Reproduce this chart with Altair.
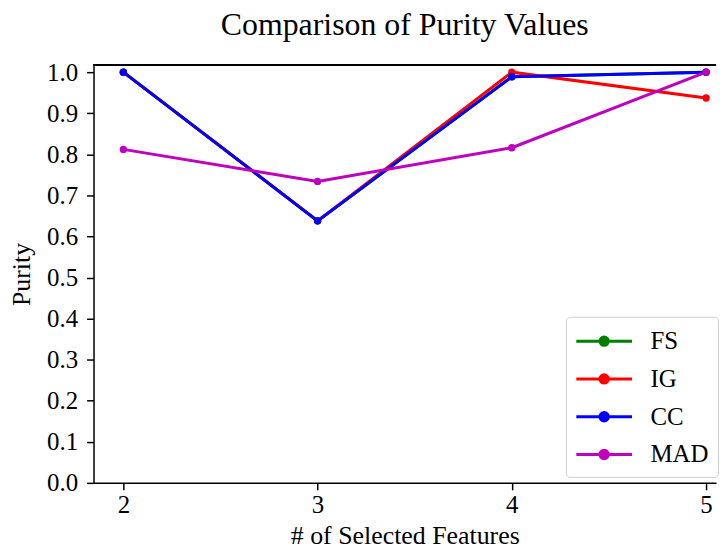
import altair as alt
import pandas as pd

features = [2, 3, 4, 5]
series_names = ["FS", "IG", "CC", "MAD"]
fs_vals = [1.0, 0.638, 0.989, 1.0]
ig_vals = [1.0, 0.638, 1.0, 0.937]
cc_vals = [1.0, 0.638, 0.989, 1.0]
mad_vals = [0.812, 0.734, 0.816, 1.0]
colors = ["#008000", "#ff0000", "#0000ff", "#bf00bf"]
y_ticks = [0.0, 0.1, 0.2, 0.3, 0.4, 0.5, 0.6, 0.7, 0.8, 0.9, 1.0]

rows = []
for i, (name, vals) in enumerate(zip(series_names, [fs_vals, ig_vals, cc_vals, mad_vals])):
    for x, v in zip(features, vals):
        rows.append({"features": x, "purity": v, "method": name, "ord": i})
df = pd.DataFrame(rows)

FONT = "Liberation Serif"
symbol_path = "M-1,0L3,0M0.7,0A0.3,0.3 0 1,1 1.3,0A0.3,0.3 0 1,1 0.7,0Z"

W, H = 626, 420

base = alt.Chart(df)

lines = base.mark_line(
    point=alt.OverlayMarkDef(filled=True, size=55), strokeWidth=3
).encode(
    x=alt.X("features:Q", scale=alt.Scale(domain=[1.8464, 5.0512], nice=False, zero=False),
            axis=alt.Axis(values=features, format="d", title="# of Selected Features",
                          grid=False, labelPadding=3, titlePadding=5)),
    y=alt.Y("purity:Q", scale=alt.Scale(domain=[0, 1.017], nice=False),
            axis=alt.Axis(values=y_ticks, format=".1f", title="Purity", grid=False,
                          labelPadding=9, titlePadding=12)),
    color=alt.Color("method:N", scale=alt.Scale(domain=series_names, range=colors),
                    legend=alt.Legend(title=None, orient="none", legendX=475, legendY=253,
                                      symbolType=symbol_path, symbolSize=784,
                                      symbolStrokeWidth=3, labelOffset=45,
                                      padding=9, rowPadding=9,
                                      strokeColor="#cfcfcf", cornerRadius=4,
                                      fillColor="white",
                                      labelFont=FONT, labelFontSize=25,
                                      labelColor="black")),
    order=alt.Order("ord:Q"),
    detail="method:N",
)

top_border = base.mark_rule(color="black", strokeWidth=1.5).encode(
    x=alt.value(0), x2=alt.value(W), y=alt.value(0)
)

chart = alt.layer(lines, top_border).properties(
    width=W, height=H,
    padding={"left": 0, "top": 0, "right": 0, "bottom": 0},
    title=alt.TitleParams("Comparison of Purity Values", font=FONT, fontSize=32,
                          fontWeight="normal", color="black", offset=18),
).configure_view(stroke=None).configure_axis(
    labelFont=FONT, labelFontSize=25, labelColor="black",
    titleFont=FONT, titleFontSize=26, titleFontWeight="normal", titleColor="black",
    domainColor="black", domainWidth=1.5, tickColor="black", tickWidth=1.5, tickSize=7,
)

chart.save("out.html", embed_options={"renderer": "svg", "actions": False})
